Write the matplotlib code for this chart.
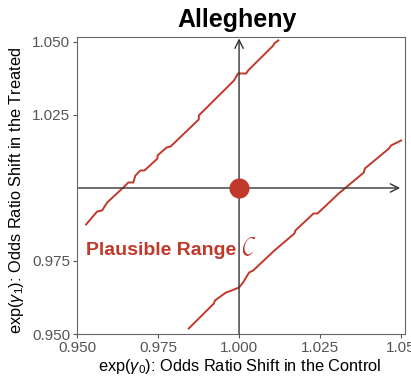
import matplotlib
matplotlib.use("Agg")
import matplotlib.pyplot as plt

plt.rcParams['font.family'] = ['Liberation Sans', 'DejaVu Sans']
plt.rcParams['mathtext.fontset'] = 'custom'
plt.rcParams['mathtext.rm'] = 'Liberation Sans'
plt.rcParams['mathtext.it'] = 'Liberation Sans:italic'

# Data
title = "Allegheny"
xticks = [0.950, 0.975, 1.000, 1.025, 1.050]
xticklabels = ["0.950", "0.975", "1.000", "1.025", "1.05"]
yticks = [0.950, 0.975, 1.025, 1.050]
yticklabels = ["0.950", "0.975", "1.025", "1.050"]

upper_x = [0.95280, 0.95621, 0.95776, 0.95870, 0.95932, 0.96429, 0.96584, 0.96739,
           0.96801, 0.96957, 0.97081, 0.97484, 0.97484, 0.97764, 0.97888, 0.98758,
           0.98758, 0.99845, 0.99969, 1.00217, 1.00280, 1.01056, 1.01087, 1.01211]
upper_y = [0.98750, 0.99195, 0.99229, 0.99401, 0.99503, 1.00017, 1.00188, 1.00188,
           1.00428, 1.00599, 1.00599, 1.01010, 1.01113, 1.01387, 1.01421, 1.02346,
           1.02483, 1.03682, 1.03921, 1.03921, 1.04024, 1.04880, 1.04949, 1.05052]

lower_x = [0.98447, 0.99224, 0.99255, 0.99596, 0.99689, 1.00000, 1.00124, 1.00217,
           1.00311, 1.00435, 1.00994, 1.01056, 1.01708, 1.01739, 1.02298, 1.02422,
           1.03075, 1.03851, 1.03882, 1.04627, 1.04689, 1.05000]
lower_y = [0.95188, 0.96045, 0.96147, 0.96421, 0.96455, 0.96592, 0.96764, 0.96935,
           0.97106, 0.97175, 0.97757, 0.97825, 0.98442, 0.98545, 0.99127, 0.99127,
           0.99812, 1.00531, 1.00668, 1.01353, 1.01455, 1.01627]

point_x = [1.0]
point_y = [1.0]

RED = '#C0392B'
GREY = '#555555'

fig = plt.figure(figsize=(4.11, 3.76), dpi=100)
ax = fig.add_axes([77/411, 1-334/376, (405-77)/411, (334-37)/376])
ax.set_xlim(0.950, 1.0512)
ax.set_ylim(0.950, 1.0517)

# reference axes with arrows
ax.annotate('', xy=(1.0497, 1.0), xytext=(0.9505, 1.0),
            arrowprops=dict(arrowstyle='->,head_length=0.6,head_width=0.3', color='#333333', lw=1.0,
                            shrinkA=0, shrinkB=0))
ax.annotate('', xy=(1.0, 1.0512), xytext=(1.0, 0.950),
            arrowprops=dict(arrowstyle='->,head_length=0.6,head_width=0.3', color='#333333', lw=1.0,
                            shrinkA=0, shrinkB=0))

ax.plot(upper_x, upper_y, color=RED, lw=1.4, solid_joinstyle='round')
ax.plot(lower_x, lower_y, color=RED, lw=1.4, solid_joinstyle='round')
ax.scatter(point_x, point_y, s=210, color=RED, zorder=5, linewidths=0)

ax.text(0.9527, 0.9785, "Plausible Range", color=RED, fontsize=14, fontweight='bold',
        ha='left', va='center')
ax.text(1.0006, 0.9792, r"$\mathcal{C}$", color=RED, fontsize=18, ha='left', va='center')

ax.set_xticks(xticks)
ax.set_xticklabels(xticklabels)
ax.set_yticks(yticks)
ax.set_yticklabels(yticklabels)
ax.tick_params(colors=GREY, labelsize=11, length=3, width=0.8, labelcolor=GREY, pad=2)
for s in ax.spines.values():
    s.set_color('#666666')
    s.set_linewidth(0.8)

fig.text(240/411, 1-366/376, r"exp($\gamma_0$): Odds Ratio Shift in the Control", fontsize=11.8,
         color='black', ha='center', va='center')
fig.text(17/411, 1-190/376, r"exp($\gamma_1$): Odds Ratio Shift in the Treated", fontsize=11.8,
         color='black', ha='center', va='center', rotation=90)
fig.text(237/411, 1-20/376, title, fontsize=18, fontweight='bold', ha='center', va='center')

fig.savefig("out.png", dpi=100)
